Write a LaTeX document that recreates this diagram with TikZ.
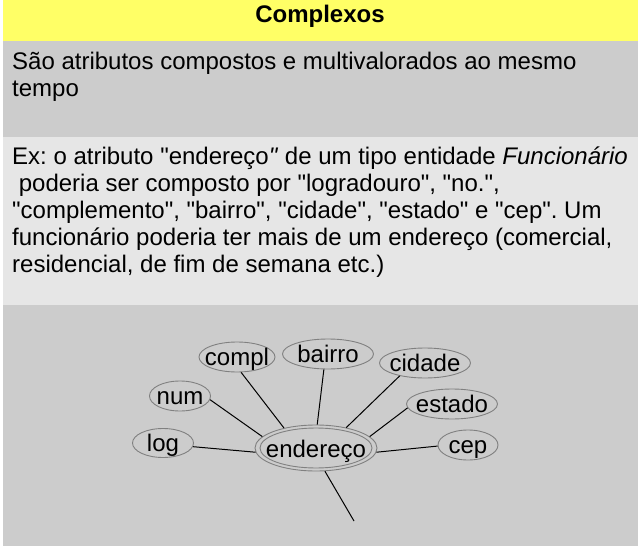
\documentclass[tikz,border=0pt]{standalone}
\usepackage{fontspec}
\setmainfont{Liberation Sans}[Ligatures=TeXOff]
\usetikzlibrary{shapes.geometric}
\definecolor{hdr}{HTML}{FFFF66}
\definecolor{grayA}{HTML}{CCCCCC}
\definecolor{grayB}{HTML}{E6E6E6}
\definecolor{rim}{HTML}{808080}
\frenchspacing
\begin{document}
\begin{tikzpicture}[x=1pt,y=-1pt,
  body/.style={anchor=base west,inner sep=0pt,font=\fontsize{24}{28}\selectfont},
  attr/.style={ellipse,draw=rim,line width=0.9pt,inner sep=0pt},
  attrtext/.style={anchor=base,inner sep=0pt,font=\fontsize{24}{28}\selectfont},
  conn/.style={draw=black,line width=1pt}]
\useasboundingbox (0,0) rectangle (638,546);
\fill[white] (0,0) rectangle (638,546);
\fill[hdr] (3,0) rectangle (638,41);
\fill[grayA] (3,41) rectangle (638,137);
\fill[grayB] (3,137) rectangle (638,305);
\fill[grayA] (3,305) rectangle (638,546);
\node[inner sep=0pt,font=\bfseries\fontsize{24}{28}\selectfont,anchor=base] (title) at (320,23) {Complexos};
\node[body] (a1) at (12,69) {São atributos compostos e multivalorados ao mesmo};
\node[body] (a2) at (12,96) {tempo};
\node[body] (b1) at (12,164) {Ex: o atributo "endereço\textit{"} de um tipo entidade \textit{Funcionário}};
\node[body] (b2) at (12,191) {\ poderia ser composto por "logradouro", "no.",};
\node[body] (b3) at (12,218) {"complemento", "bairro", "cidade", "estado" e "cep". Um};
\node[body] (b4) at (12,245) {funcionário poderia ter mais de um endereço (comercial,};
\node[body] (b5) at (12,272) {residencial, de fim de semana etc.)};
% attributes
\node[attr,minimum width=76pt,minimum height=30pt] (compl) at (237,357) {};
\node[attrtext] (compl-t) at (237,365) {compl};
\node[attr,minimum width=91pt,minimum height=30pt] (bairro) at (328,354) {};
\node[attrtext] (bairro-t) at (328,362) {bairro};
\node[attr,minimum width=91pt,minimum height=30pt] (cidade) at (425,363) {};
\node[attrtext] (cidade-t) at (425,371) {cidade};
\node[attr,minimum width=61pt,minimum height=30pt] (num) at (180,396) {};
\node[attrtext] (num-t) at (180,404) {num};
\node[attr,minimum width=91pt,minimum height=30pt] (estado) at (452,404) {};
\node[attrtext] (estado-t) at (452,412) {estado};
\node[attr,minimum width=61pt,minimum height=29pt] (log) at (163,443) {};
\node[attrtext] (log-t) at (163,451) {log};
\node[attr,minimum width=60pt,minimum height=30pt] (cep) at (468,445) {};
\node[attrtext] (cep-t) at (468,453) {cep};
\node[attr,minimum width=122pt,minimum height=46pt] (endereco) at (316,448) {};
\draw[rim,line width=0.9pt] (endereco.center) ellipse [x radius=56pt,y radius=20pt];
\node[attrtext] (endtext) at (316,457) {endereço};
% connectors
\draw[conn] (endereco.184) -- (log.-7);
\draw[conn] (endereco.168) -- (num.-7);
\draw[conn] (endereco.148) -- (compl.-75);
\draw[conn] (endereco.87) -- (bairro.-105);
\draw[conn] (endereco.34) -- (cidade.-153);
\draw[conn] (endereco.12) -- (estado.-175);
\draw[conn] (endereco.-4) -- (cep.182);
\coordinate (tail) at (354,521);
\draw[conn] (endereco.-69) -- (tail);
\end{tikzpicture}
\end{document}
